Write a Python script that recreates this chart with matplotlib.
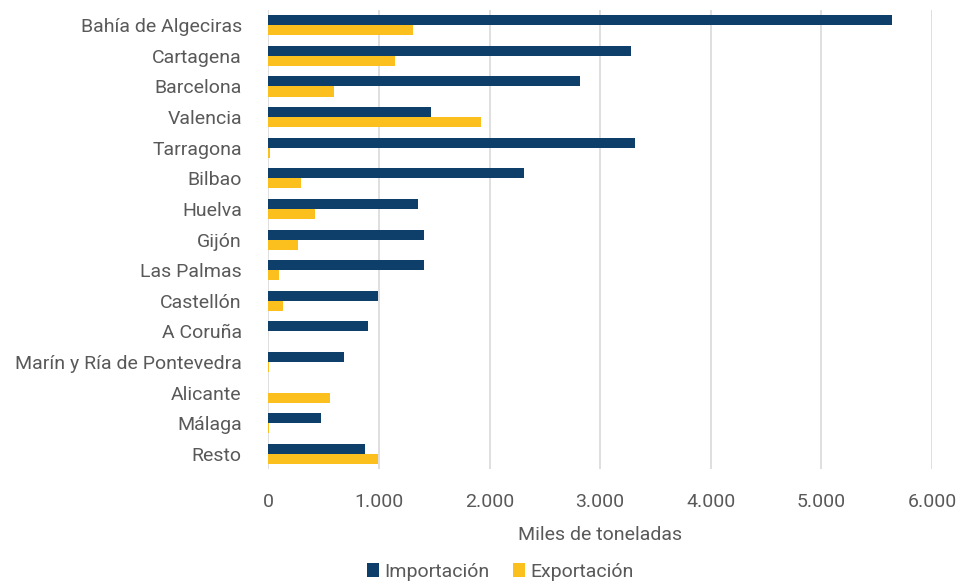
import numpy as np
import matplotlib.pyplot as plt

plt.rcParams['font.family'] = ['Roboto', 'DejaVu Sans']

puertos = ["Bahía de Algeciras", "Cartagena", "Barcelona", "Valencia", "Tarragona",
           "Bilbao", "Huelva", "Gijón", "Las Palmas", "Castellón", "A Coruña",
           "Marín y Ría de Pontevedra", "Alicante", "Málaga", "Resto"]
importacion = [5635, 3275, 2815, 1470, 3318, 2310, 1353, 1404, 1404, 988, 902, 686, 0, 478, 878]
exportacion = [1305, 1145, 596, 1925, 20, 300, 424, 267, 98, 129, 0, 5, 557, 3, 992]

gris = "#595959"
fig, ax = plt.subplots(figsize=(9.58, 5.83), dpi=100)
fig.subplots_adjust(left=0.28, right=0.973, top=0.983, bottom=0.195)

y = np.arange(len(puertos))
h = 0.33
ax.barh(y - h / 2, importacion, height=h, color="#0E3F6A", label="Importación", zorder=3)
ax.barh(y + h / 2, exportacion, height=h, color="#FBC01E", label="Exportación", zorder=3)

ax.set_yticks(y)
ax.set_yticklabels(puertos)
ax.set_ylim(len(puertos) - 0.5, -0.5)
ax.set_xlim(0, 6000)
ax.set_xticks(range(0, 6001, 1000))
ax.set_xticklabels(["0", "1.000", "2.000", "3.000", "4.000", "5.000", "6.000"])
ax.tick_params(axis="both", length=0, labelsize=14, colors=gris)
ax.tick_params(axis="x", pad=17)
ax.tick_params(axis="y", pad=19)
ax.grid(axis="x", color="#D9D9D9", linewidth=1.2, zorder=0)
for s in ax.spines.values():
    s.set_visible(False)

ax.set_xlabel("Miles de toneladas", fontsize=14, color=gris, labelpad=11)
ax.legend(loc="upper center", bbox_to_anchor=(0.35, -0.165), ncol=2, frameon=False,
          fontsize=14, labelcolor=gris, handlelength=0.6, handleheight=0.7,
          handletextpad=0.3, columnspacing=1.2)

plt.savefig("out.png")
